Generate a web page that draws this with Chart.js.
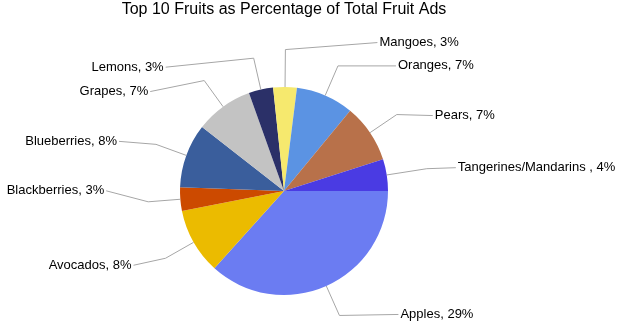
<!DOCTYPE html>
<html>
<head>
<meta charset="utf-8">
<script src="https://cdn.jsdelivr.net/npm/chart.js@4.4.0/dist/chart.umd.min.js"></script>
<style>
  body { margin: 0; background: #fff; }
</style>
</head>
<body>
<canvas id="chart" width="627" height="327"></canvas>
<script>
const chartTitle = 'Top 10 Fruits as Percentage of Total Fruit Ads';
const fruits = ['Apples', 'Avocados', 'Blackberries', 'Blueberries', 'Grapes',
  'Lemons', 'Mangoes', 'Oranges', 'Pears', 'Tangerines/Mandarins '];
const shares = [29.0, 8.1, 2.9, 7.9, 7.1, 3.0, 2.9, 7.1, 7.2, 3.9];
const sliceColors = ['#6b7cf2', '#ebbb00', '#cc4a00', '#3a5e9c', '#c3c3c3',
  '#2b3068', '#f6e96e', '#5b93e3', '#b8714a', '#4a3be3'];

// where each label sits: elbow distance (times radius), leg to text, vertical nudge
const labelLayout = [
  [1.31, 61, -1], [1.31, -34, 7], [1.31, -44, -11], [1.31, -39, -3], [1.31, -56, 11],
  [1.31, -90, 9], [1.36, 94, -7], [1.31, 60, 0], [1.31, 38, 1], [1.39, 31, -1]
];

const pieLabels = {
  id: 'pieLabels',
  afterDatasetsDraw(chart) {
    const ctx = chart.ctx;
    const area = chart.chartArea;
    ctx.save();
    ctx.fillStyle = '#000';
    ctx.font = '16px "Liberation Sans", Arial, sans-serif';
    ctx.textAlign = 'center';
    ctx.textBaseline = 'middle';
    ctx.fillText(chartTitle, (area.left + area.right) / 2, 9.5);

    ctx.font = '13px "Liberation Sans", Arial, sans-serif';
    ctx.strokeStyle = '#a6a6a6';
    ctx.lineWidth = 1;
    chart.getDatasetMeta(0).data.forEach((arc, i) => {
      const p = arc.getProps(['x', 'y', 'startAngle', 'endAngle', 'outerRadius'], true);
      const mid = (p.startAngle + p.endAngle) / 2;
      const [k, leg, dy] = labelLayout[i];
      const sx = p.x + Math.cos(mid) * p.outerRadius;
      const sy = p.y + Math.sin(mid) * p.outerRadius;
      const ex = p.x + Math.cos(mid) * p.outerRadius * k;
      const ey = p.y + Math.sin(mid) * p.outerRadius * k;
      const dir = leg >= 0 ? 1 : -1;
      const tx = ex + leg;
      const ty = ey + dy;
      ctx.beginPath();
      ctx.moveTo(sx, sy);
      ctx.lineTo(ex, ey);
      ctx.lineTo(tx - dir * 2, ty);
      ctx.stroke();
      ctx.textAlign = dir > 0 ? 'left' : 'right';
      ctx.fillText(fruits[i] + ', ' + Math.round(shares[i]) + '%', tx, ty);
    });
    ctx.restore();
  }
};

new Chart(document.getElementById('chart'), {
  type: 'pie',
  data: {
    labels: fruits,
    datasets: [{
      data: shares,
      backgroundColor: sliceColors,
      borderWidth: 0
    }]
  },
  options: {
    responsive: false,
    animation: false,
    rotation: 90,
    layout: { padding: { left: 180, right: 239, top: 87, bottom: 32 } },
    plugins: {
      legend: { display: false },
      tooltip: { enabled: false }
    }
  },
  plugins: [pieLabels]
});
</script>
</body>
</html>
